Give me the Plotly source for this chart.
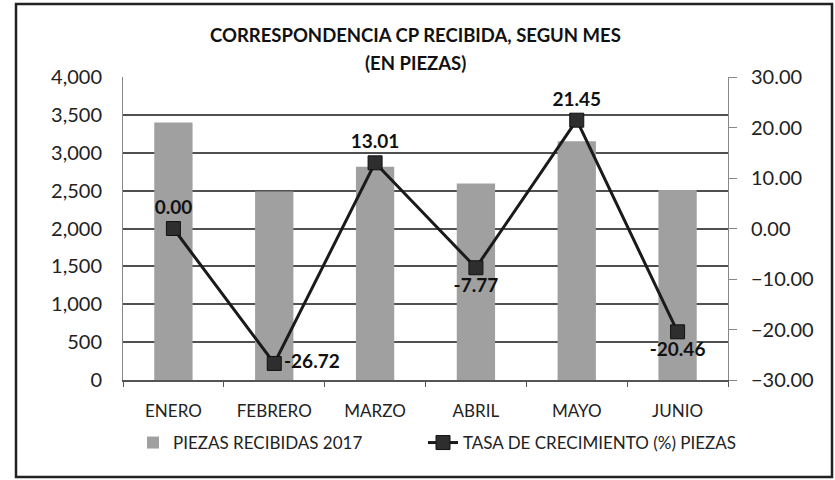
import plotly.graph_objects as go

months = ["ENERO", "FEBRERO", "MARZO", "ABRIL", "MAYO", "JUNIO"]
piezas = [3398, 2490, 2814, 2595, 3152, 2507]
tasa = [0.00, -26.72, 13.01, -7.77, 21.45, -20.46]
tasa_labels = ["0.00", "-26.72", "13.01", "-7.77", "21.45", "-20.46"]
label_pos = ["top center", "middle right", "top center", "bottom center", "top center", "bottom center"]

W, H = 835, 480
L, R, T, B = 123, 107, 77, 100
FONT = "Lato, Calibri, sans-serif"

def px(x):
    return (x - L) / (W - L - R)

def py(y):
    return (H - B - y) / (H - T - B)

fig = go.Figure()
fig.add_trace(go.Bar(
    x=months, y=piezas, name="PIEZAS RECIBIDAS 2017",
    marker=dict(color="#a0a0a0", line=dict(width=0)),
    yaxis="y", legend="legend",
))
fig.add_trace(go.Scatter(
    x=months, y=tasa, name="TASA DE CRECIMIENTO (%) PIEZAS",
    mode="lines+markers+text",
    line=dict(color="#1a1a1a", width=3),
    marker=dict(symbol="square", size=14, color="#2e2e2e", line=dict(color="#111", width=1)),
    text=["<b>%s</b>" % t for t in tasa_labels], textposition=label_pos,
    textfont=dict(family=FONT, size=19, color="#111"),
    yaxis="y2", cliponaxis=False, legend="legend2",
))

legend_common = dict(orientation="h", xanchor="left", y=py(443), yanchor="middle",
                     font=dict(family=FONT, size=17, color="#222"),
                     bgcolor="rgba(0,0,0,0)", borderwidth=0)

fig.update_layout(
    width=W, height=H,
    margin=dict(l=L, r=R, t=T, b=B, pad=0),
    paper_bgcolor="white", plot_bgcolor="white",
    font=dict(family=FONT, size=17, color="#222"),
    bargap=0.62,
    showlegend=True,
    legend=dict(x=px(133), **legend_common),
    legend2=dict(x=px(423), **legend_common),
    xaxis=dict(
        showline=True, linecolor="#555", linewidth=1.5,
        ticks="outside", tickson="boundaries", ticklen=5, tickcolor="#555",
        ticklabelstandoff=15,
        tickfont=dict(family=FONT, size=17, color="#222"),
        showgrid=False,
    ),
    yaxis=dict(
        range=[0, 4000], dtick=500, tickformat=",d",
        showgrid=True, gridcolor="#505050", gridwidth=1.6,
        showline=True, linecolor="#888", linewidth=1,
        ticks="", ticklabelstandoff=16,
        tickfont=dict(family=FONT, size=20, color="#222"),
        zeroline=False,
    ),
    yaxis2=dict(
        range=[-30, 30], dtick=10, tickformat=".2f",
        overlaying="y", side="right",
        showgrid=False, showline=True, linecolor="#888", linewidth=1,
        ticks="outside", ticklen=8, tickcolor="#888", ticklabelstandoff=10,
        tickfont=dict(family=FONT, size=20, color="#222"),
        zeroline=False,
    ),
    annotations=[
        dict(text="<b>CORRESPONDENCIA CP RECIBIDA, SEGUN MES</b>", x=px(415), y=py(22),
             xref="paper", yref="paper", showarrow=False, font=dict(family=FONT, size=18.5, color="#111")),
        dict(text="<b>(EN PIEZAS)</b>", x=px(415), y=py(50),
             xref="paper", yref="paper", showarrow=False, font=dict(family=FONT, size=18.5, color="#111")),
    ],
    shapes=[
        dict(type="rect", xref="paper", yref="paper", x0=px(16), x1=px(832), y0=py(477), y1=py(4),
             line=dict(color="#222", width=2.5), fillcolor="rgba(0,0,0,0)", layer="below"),
    ],
)

fig.write_html("out.html", config={"displayModeBar": False},
               post_script="document.body.style.margin='0px';")
